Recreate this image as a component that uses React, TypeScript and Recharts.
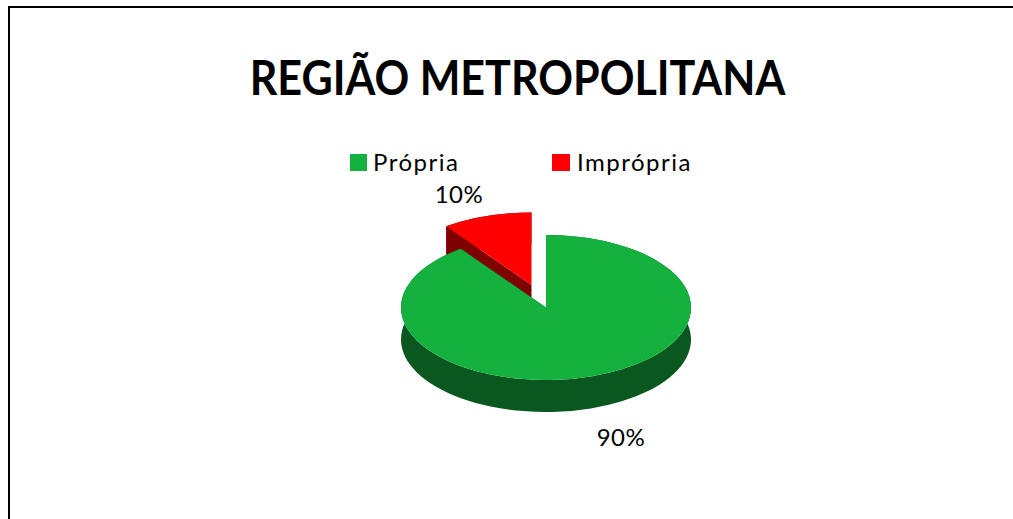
import { PieChart, Pie, Cell, Legend } from 'recharts';

const categories = ['Própria', 'Imprópria'];
const values = [90, 10];
const colors = ['#14B13F', '#FF0000'];
const sideColors = ['#0A581F', '#7F0000'];
const chartData = categories.map((name, i) => ({ name, value: values[i] }));

const TILT = 0.5;
const DEPTH = 32;
const RAD = Math.PI / 180;

// 3D look: recharts gives the angles, this squashes them to an ellipse and extrudes a side
function TiltedSlice(props: any) {
  const { cx, cy, outerRadius, startAngle, endAngle, fill, name, only } = props;
  if (name !== only) return <g />;
  const i = categories.indexOf(name);
  const rx = outerRadius;
  const ry = outerRadius * TILT;
  const x = (a: number) => cx + rx * Math.cos(a * RAD);
  const y = (a: number) => cy - ry * Math.sin(a * RAD);
  const large = Math.abs(endAngle - startAngle) > 180 ? 1 : 0;
  const cw = startAngle > endAngle ? 1 : 0;
  const ccw = cw ? 0 : 1;

  const top = `M${cx},${cy} L${x(startAngle)},${y(startAngle)} A${rx},${ry} 0 ${large} ${cw} ${x(endAngle)},${y(endAngle)} Z`;
  const rim = `M${x(startAngle)},${y(startAngle)} A${rx},${ry} 0 ${large} ${cw} ${x(endAngle)},${y(endAngle)} L${x(endAngle)},${y(endAngle) + DEPTH} A${rx},${ry} 0 ${large} ${ccw} ${x(startAngle)},${y(startAngle) + DEPTH} Z`;
  const wall = (a: number) =>
    `M${cx},${cy} L${x(a)},${y(a)} L${x(a)},${y(a) + DEPTH} L${cx},${cy + DEPTH} Z`;

  return (
    <g>
      <path d={rim} fill={sideColors[i]} />
      <path d={wall(startAngle)} fill={sideColors[i]} />
      <path d={wall(endAngle)} fill={sideColors[i]} />
      <path d={top} fill={fill} />
    </g>
  );
}

function SliceLabel({ name, percent, cx, cy, only, dx, dy }: any) {
  if (name !== only) return null;
  return (
    <text x={cx + dx} y={cy + dy} textAnchor="middle" dominantBaseline="central" fill="#000" fontSize={24} letterSpacing={0.5} fontFamily="Lato">
      {`${Math.round(percent * 100)}%`}
    </text>
  );
}

function ChartLegend({ payload }: any) {
  const seen = categories.map((c) => (payload || []).find((p: any) => p.value === c));
  return (
    <div style={{ position: 'relative', height: 26 }}>
      {seen.map((p: any, i: number) =>
        p ? (
          <div key={p.value} style={{ position: 'absolute', left: i === 0 ? 0 : 202, top: 0, display: 'flex', alignItems: 'center', height: 26 }}>
            <span style={{ width: i === 0 ? 17 : 18, height: 17, background: colors[i], marginRight: i === 0 ? 6 : 7, marginTop: 2 }} />
            <span style={{ fontFamily: 'Lato', fontSize: 24, letterSpacing: 1.5, color: '#000' }}>{p.value}</span>
          </div>
        ) : null
      )}
    </div>
  );
}

export default function App() {
  return (
    <div style={{ position: 'absolute', left: 0, top: 0, width: 1013, height: 519, overflow: 'hidden', background: '#fff' }}>
      <div style={{ position: 'absolute', left: 8, top: 6, right: 0, bottom: 0, borderLeft: '2px solid #000', borderTop: '2px solid #000' }} />
      <div style={{ position: 'absolute', left: 0, width: 1035, top: 47, textAlign: 'center', fontFamily: 'Lato', fontWeight: 700, fontSize: 47, lineHeight: '60px', color: '#000', transform: 'scaleX(0.916)' }}>
        REGIÃO METROPOLITANA
      </div>
      <PieChart width={1013} height={519} margin={{ top: 0, right: 0, bottom: 0, left: 0 }}>
        <Legend content={<ChartLegend />} wrapperStyle={{ left: 350, top: 148, width: 400 }} />
        <Pie
          data={chartData}
          dataKey="value"
          nameKey="name"
          cx={531.5}
          cy={285}
          outerRadius={145}
          startAngle={90}
          endAngle={-270}
          stroke="none"
          isAnimationActive={false}
          shape={(p: any) => <TiltedSlice {...p} only="Imprópria" />}
          label={(p: any) => <SliceLabel {...p} only="Imprópria" dx={-72.5} dy={-91.5} />}
          labelLine={false}
        >
          {chartData.map((d, i) => <Cell key={d.name} fill={colors[i]} />)}
        </Pie>
        <Pie
          data={chartData}
          dataKey="value"
          nameKey="name"
          cx={546}
          cy={307.5}
          outerRadius={145}
          startAngle={90}
          endAngle={-270}
          stroke="none"
          isAnimationActive={false}
          shape={(p: any) => <TiltedSlice {...p} only="Própria" />}
          label={(p: any) => <SliceLabel {...p} only="Própria" dx={75} dy={129} />}
          labelLine={false}
        >
          {chartData.map((d, i) => <Cell key={d.name} fill={colors[i]} />)}
        </Pie>
      </PieChart>
    </div>
  );
}
